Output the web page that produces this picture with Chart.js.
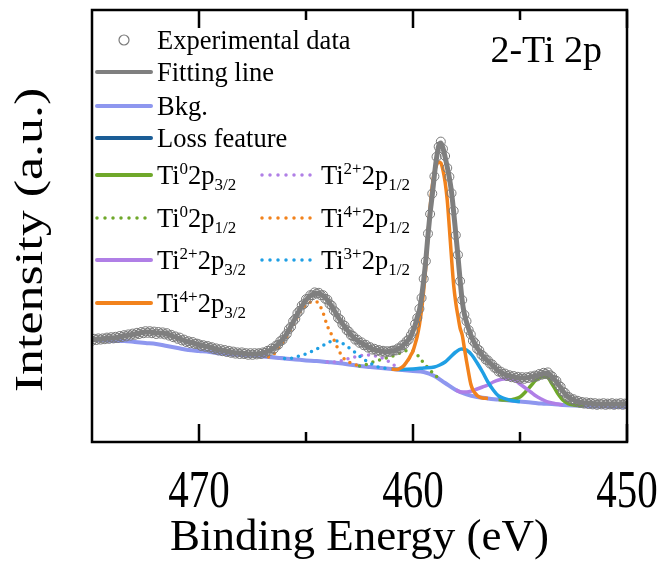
<!DOCTYPE html>
<html>
<head>
<meta charset="utf-8">
<title>2-Ti 2p</title>
<script src="https://cdn.jsdelivr.net/npm/chart.js@4.4.1/dist/chart.umd.min.js"></script>
<style>
  html, body { margin: 0; padding: 0; background: #fff; }
  canvas { display: block; }
</style>
</head>
<body>
<canvas id="chart" width="664" height="570"></canvas>
<script>
"use strict";

// measured spectrum, 0.1 eV steps (binding energy in eV, counts in a.u.)
const expEnergy = [
    475, 474.9, 474.8, 474.7, 474.6, 474.5, 474.4, 474.3, 474.2, 474.1,
    474, 473.9, 473.8, 473.7, 473.6, 473.5, 473.4, 473.3, 473.2, 473.1,
    473, 472.9, 472.8, 472.7, 472.6, 472.5, 472.4, 472.3, 472.2, 472.1,
    472, 471.9, 471.8, 471.7, 471.6, 471.5, 471.4, 471.3, 471.2, 471.1,
    471, 470.9, 470.8, 470.7, 470.6, 470.5, 470.4, 470.3, 470.2, 470.1,
    470, 469.9, 469.8, 469.7, 469.6, 469.5, 469.4, 469.3, 469.2, 469.1,
    469, 468.9, 468.8, 468.7, 468.6, 468.5, 468.4, 468.3, 468.2, 468.1,
    468, 467.9, 467.8, 467.7, 467.6, 467.5, 467.4, 467.3, 467.2, 467.1,
    467, 466.9, 466.8, 466.7, 466.6, 466.5, 466.4, 466.3, 466.2, 466.1,
    466, 465.9, 465.8, 465.7, 465.6, 465.5, 465.4, 465.3, 465.2, 465.1,
    465, 464.9, 464.8, 464.7, 464.6, 464.5, 464.4, 464.3, 464.2, 464.1,
    464, 463.9, 463.8, 463.7, 463.6, 463.5, 463.4, 463.3, 463.2, 463.1,
    463, 462.9, 462.8, 462.7, 462.6, 462.5, 462.4, 462.3, 462.2, 462.1,
    462, 461.9, 461.8, 461.7, 461.6, 461.5, 461.4, 461.3, 461.2, 461.1,
    461, 460.9, 460.8, 460.7, 460.6, 460.5, 460.4, 460.3, 460.2, 460.1,
    460, 459.9, 459.8, 459.7, 459.6, 459.5, 459.4, 459.3, 459.2, 459.1,
    459, 458.9, 458.8, 458.7, 458.6, 458.5, 458.4, 458.3, 458.2, 458.1,
    458, 457.9, 457.8, 457.7, 457.6, 457.5, 457.4, 457.3, 457.2, 457.1,
    457, 456.9, 456.8, 456.7, 456.6, 456.5, 456.4, 456.3, 456.2, 456.1,
    456, 455.9, 455.8, 455.7, 455.6, 455.5, 455.4, 455.3, 455.2, 455.1,
    455, 454.9, 454.8, 454.7, 454.6, 454.5, 454.4, 454.3, 454.2, 454.1,
    454, 453.9, 453.8, 453.7, 453.6, 453.5, 453.4, 453.3, 453.2, 453.1,
    453, 452.9, 452.8, 452.7, 452.6, 452.5, 452.4, 452.3, 452.2, 452.1,
    452, 451.9, 451.8, 451.7, 451.6, 451.5, 451.4, 451.3, 451.2, 451.1,
    451, 450.9, 450.8, 450.7, 450.6, 450.5, 450.4, 450.3, 450.2, 450.1,
    450
];
const experimental = [
    25.3, 25.8, 25.5, 25.9, 25.6, 25.9, 25.7, 26.1, 25.8, 26.2,
    25.9, 26.3, 26.0, 26.5, 26.2, 26.7, 26.4, 26.9, 26.6, 27.1,
    26.8, 27.3, 27.0, 27.5, 27.2, 27.7, 27.3, 27.7, 27.2, 27.6,
    27.0, 27.5, 27.1, 27.4, 26.9, 27.2, 26.6, 26.8, 26.2, 26.4,
    25.8, 26.1, 25.4, 25.6, 25.0, 25.2, 24.7, 25.0, 24.5, 24.6,
    24.4, 24.0, 24.2, 23.8, 24.0, 23.6, 23.7, 23.2, 23.4, 22.9,
    23.2, 22.7, 23.0, 22.5, 22.8, 22.3, 22.6, 22.1, 22.4, 22.0,
    22.4, 22.0, 22.2, 21.8, 22.2, 21.8, 22.2, 21.9, 22.2, 22.0,
    22.4, 22.3, 22.8, 22.8, 23.4, 23.3, 24.1, 24.3, 25.2, 25.5,
    26.4, 27.0, 28.2, 28.8, 30.2, 30.8, 32.2, 32.8, 34.1, 34.5,
    35.7, 35.8, 36.7, 36.7, 37.4, 37.1, 37.3, 36.7, 36.7, 35.8,
    35.6, 34.5, 34.1, 32.9, 32.4, 31.0, 30.6, 29.4, 29.1, 28.0,
    27.6, 26.7, 26.5, 25.6, 25.6, 24.8, 24.9, 24.2, 24.3, 23.6,
    23.7, 23.1, 23.3, 22.8, 23.0, 22.6, 22.8, 22.4, 22.7, 22.5,
    22.8, 22.9, 22.9, 23.4, 23.4, 24.2, 24.4, 25.2, 25.6, 26.7,
    27.6, 29.5, 31.0, 33.3, 36.0, 40.8, 45.2, 52.1, 57.0, 62.1,
    66.4, 71.3, 73.8, 75.1, 73.3, 71.5, 68.5, 66.3, 62.2, 57.8,
    51.7, 46.8, 40.2, 35.5, 31.8, 30.2, 28.0, 26.9, 25.3, 24.7,
    23.3, 22.9, 21.8, 21.4, 20.6, 20.4, 19.6, 19.4, 18.6, 18.4,
    17.6, 17.6, 17.0, 17.1, 16.5, 16.7, 16.2, 16.5, 16.0, 16.3,
    15.8, 16.2, 15.8, 16.2, 16.0, 16.4, 16.2, 16.6, 16.4, 17.0,
    16.8, 17.3, 17.0, 17.4, 16.7, 16.4, 15.5, 15.3, 14.2, 13.8,
    12.6, 12.3, 11.3, 11.2, 10.6, 10.7, 10.1, 10.3, 9.8, 10.0,
    9.6, 9.9, 9.5, 9.8, 9.4, 9.7, 9.3, 9.6, 9.4, 9.7,
    9.3, 9.6, 9.4, 9.7, 9.3, 9.6, 9.4, 9.7, 9.3, 9.6,
    9.5
];

// envelope of the fit
const fitEnergy = [
    475, 474.75, 474.5, 474.25, 474, 473.75, 473.5, 473.25, 473, 472.75, 472.5, 472.25,
    472, 471.75, 471.5, 471.25, 471, 470.75, 470.5, 470.25, 470, 469.75, 469.5, 469.25,
    469, 468.75, 468.5, 468.25, 468, 467.75, 467.5, 467.25, 467, 466.75, 466.5, 466.25,
    466, 465.75, 465.5, 465.25, 465, 464.75, 464.5, 464.25, 464, 463.75, 463.5, 463.25,
    463, 462.75, 462.5, 462.25, 462, 461.75, 461.5, 461.25, 461,
    460.9, 460.8, 460.7, 460.6, 460.5, 460.4, 460.3, 460.2, 460.1, 460,
    459.9, 459.8, 459.7, 459.6, 459.5, 459.4, 459.3, 459.2, 459.1, 459,
    458.9, 458.8, 458.7, 458.6, 458.5, 458.4, 458.3, 458.2, 458.1, 458,
    457.9, 457.8, 457.7, 457.6, 457.5, 457.4, 457.3, 457.2, 457.1, 457,
    456.9, 456.8, 456.7, 456.6, 456.5, 456.4, 456.3, 456.2, 456.1,
    456, 455.75, 455.5, 455.25, 455, 454.75, 454.5, 454.25, 454, 453.75, 453.5, 453.25,
    453, 452.75, 452.5, 452.25, 452, 451.75, 451.5, 451.25, 451, 450.75, 450.5, 450.25, 450
];
const fitting = [
    25.5, 25.75, 25.75, 26, 26, 26.25, 26.5, 26.75, 27, 27.25, 27.5, 27.5,
    27.25, 27.25, 27, 26.5, 26, 25.5, 25, 24.75, 24.25, 24, 23.75, 23.25,
    23, 22.75, 22.5, 22.25, 22.25, 22, 22, 22, 22.25, 22.75, 23.5, 24.75,
    26.25, 28.5, 31, 33.5, 35.5, 36.75, 37.25, 36.75, 35.5, 33.5, 31.25, 29.25,
    27.5, 26, 25, 24.25, 23.5, 23, 22.75, 22.5, 22.75,
    22.75, 23, 23.25, 23.5, 24, 24.5, 25, 25.75, 26.5, 27.75,
    29.25, 31.25, 33, 36.25, 40.5, 45.5, 51.75, 57.25, 61.75, 66.75,
    71, 74, 74.75, 73.5, 71.25, 68.75, 66, 62.5, 57.5, 52,
    46.5, 40.5, 35.25, 32, 30, 28.25, 26.75, 25.5, 24.5, 23.5,
    22.75, 22, 21.25, 20.75, 20.25, 19.75, 19.25, 18.75, 18.25,
    17.75, 17, 16.5, 16.25, 16, 16, 16.25, 16.5, 17, 17.25, 16.25, 14.75,
    12.75, 11.25, 10.5, 10, 9.75, 9.75, 9.5, 9.5, 9.5, 9.5, 9.5, 9.5, 9.5
];

// Shirley-type background, 0.5 eV steps
const bkgEnergy = [
    475, 474.5, 474, 473.5, 473, 472.5, 472, 471.5, 471, 470.5, 470, 469.5, 469,
    468.5, 468, 467.5, 467, 466.5, 466, 465.5, 465, 464.5, 464, 463.5, 463,
    462.5, 462, 461.5, 461, 460.5, 460, 459.5, 459, 458.5, 458, 457.5, 457,
    456.5, 456, 455.5, 455, 454.5, 454, 453.5, 453, 452.5, 452, 451.5, 451, 450.5, 450
];
const bkg = [
    25.5, 25.5, 25.25, 25.25, 25, 24.75, 24.5, 24, 23.5, 23, 22.75, 22.5, 22.1,
    21.9, 21.75, 21.6, 21.4, 21.1, 20.9, 20.6, 20.4, 20.25, 20, 19.75, 19.4,
    19, 18.75, 18.5, 18.25, 18, 17.75, 17.5, 16.5, 14.75, 13, 11.9, 11.25,
    10.9, 10.6, 10.4, 10.1, 9.9, 9.6, 9.5, 9.25, 9.1, 9, 8.9, 8.9, 8.75, 8.75
];

const lossEnergy = [475, 474.5, 474, 473.5, 473, 472.5, 472, 471.5, 471, 470.5,
    470, 469.5, 469, 468.5, 468, 467.5, 467, 466.5, 466];
const loss = [25.5, 25.75, 26, 26.5, 27, 27.5, 27.25, 27, 26, 25,
    24.25, 23.75, 23, 22.5, 22.25, 21.9, 21.6, 21.2, 20.9];

// fitted components (background included)
const ti4p32Energy = [461, 460.75, 460.5, 460.4, 460.3, 460.2, 460.1, 460, 459.9, 459.8,
    459.7, 459.6, 459.5, 459.4, 459.3, 459.2, 459.1, 459, 458.9, 458.8, 458.7, 458.6,
    458.5, 458.4, 458.3, 458.2, 458.1, 458, 457.9, 457.8, 457.7, 457.6, 457.5, 457.4,
    457.3, 457.2, 457.1, 457, 456.75, 456.5];
const ti4p32 = [18.25, 18.1, 18.75, 19.25, 20, 20.75, 21.75, 22.75, 24.5, 26.5,
    29.25, 33, 38, 44, 51.75, 58.5, 64, 67.5, 69.25, 70, 69.75, 68,
    65, 60.5, 53.5, 46, 39.25, 34.75, 31.5, 28.5, 26.75, 23.5, 20.25, 17.25,
    14.5, 13, 12.25, 11.6, 11, 10.9];

const ti3p32Energy = [461, 460.5, 460, 459.5, 459, 458.75, 458.5, 458.25, 458, 457.75,
    457.5, 457.25, 457, 456.75, 456.5, 456.25, 456, 455.75, 455.5, 455.25, 455];
const ti3p32 = [18.25, 18.15, 18.25, 18.5, 18.75, 19.25, 20, 21.25, 22.5, 23.25,
    23, 21.75, 19.75, 17.5, 15, 13, 11.5, 10.9, 10.5, 10.25, 10.1];

const ti2p32Energy = [458, 457.75, 457.5, 457.25, 457, 456.75, 456.5, 456.25, 456, 455.75,
    455.5, 455.25, 455, 454.75, 454.5, 454.25, 454, 453.75, 453.5, 453.25, 453];
const ti2p32 = [13, 12.5, 12.5, 12.75, 13.25, 13.75, 14.25, 15, 15.5, 15.75,
    15.75, 15.5, 14.5, 13.5, 12.5, 11.5, 10.75, 10.1, 9.75, 9.5, 9.25];

const ti0p32Energy = [456, 455.75, 455.5, 455.25, 455, 454.75, 454.5, 454.25, 454,
    453.75, 453.5, 453.25, 453, 452.75, 452.5, 452.25, 452];
const ti0p32 = [10.6, 10.5, 10.5, 10.75, 11.25, 12.5, 14, 15.5, 16.25,
    16.25, 14.5, 12.25, 10.5, 9.6, 9.25, 9.1, 9];

const ti4p12Energy = [466.75, 466.5, 466.25, 466, 465.75, 465.5, 465.25, 465, 464.75,
    464.5, 464.25, 464, 463.75, 463.5, 463.25, 463, 462.75, 462.5];
const ti4p12 = [21.25, 22, 23.75, 25.5, 27.75, 30.25, 32.75, 34.25, 35,
    35, 33, 29, 26.25, 23.25, 21, 20, 19.4, 19];

const ti3p12Energy = [466, 465.75, 465.5, 465.25, 465, 464.75, 464.5, 464.25, 464, 463.75,
    463.5, 463.25, 463, 462.75, 462.5, 462.25, 462, 461.75, 461.5, 461.25];
const ti3p12 = [20.9, 20.9, 21.25, 21.6, 22, 22.6, 23.25, 24, 24.75, 25.25,
    25.25, 24.5, 23.6, 22.6, 21.5, 20.5, 19.75, 19, 18.6, 18.4];

const ti2p12Energy = [464, 463.75, 463.5, 463.25, 463, 462.75, 462.5, 462.25, 462,
    461.75, 461.5, 461.25, 461, 460.75, 460.5];
const ti2p12 = [20, 20, 20.1, 20.5, 20.9, 21.25, 21.5, 21.75, 21.75,
    21.5, 21.1, 20.5, 19.6, 18.75, 18.1];

const ti0p12Energy = [462.5, 462.25, 462, 461.75, 461.5, 461.25, 461, 460.75, 460.5,
    460.25, 460, 459.75, 459.5, 459.25, 459, 458.75];
const ti0p12 = [19, 19.25, 19.75, 20.25, 20.6, 21, 21.4, 21.9, 22.5,
    22.9, 22.75, 21.5, 19.75, 18.25, 16.9, 15.6];

// axis ticks
const xMajorTicks = [470, 460, 450];
const xMinorTicks = [465, 455];

const settings = {
    font: '"Liberation Serif", "Times New Roman", serif',
    gray: "#7f7f7f",
    bkg: "#8e97ef",
    loss: "#1b5d96",
    green: "#6fa82a",
    purple: "#b07fe6",
    orange: "#f2821c",
    cyan: "#1f9fe4",
    dots: [0, 7],
};

function pairs(xs, ys) {
    return xs.map(function (x, i) { return { x: x, y: ys[i] }; });
}

function curve(label, xs, ys, color, width, dotted, order) {
    return {
        label: label,
        data: pairs(xs, ys),
        borderColor: color,
        borderWidth: width,
        borderDash: dotted ? settings.dots : [],
        borderCapStyle: dotted ? "round" : "butt",
        pointRadius: 0,
        cubicInterpolationMode: "monotone",
        fill: false,
        order: order,
    };
}

// legend rows: text pieces are [text, "sup" | "sub" | undefined]
const legendItems = [
    { col: 0, row: 0, marker: "circle", color: "#7a7a7a", text: [["Experimental data"]] },
    { col: 0, row: 1, color: settings.gray, text: [["Fitting line"]] },
    { col: 0, row: 2, color: settings.bkg, text: [["Bkg."]] },
    { col: 0, row: 3, color: settings.loss, text: [["Loss feature"]] },
    { col: 0, row: 4, color: settings.green, text: [["Ti"], ["0", "sup"], ["2p"], ["3/2", "sub"]] },
    { col: 0, row: 5, color: settings.green, dotted: true, text: [["Ti"], ["0", "sup"], ["2p"], ["1/2", "sub"]] },
    { col: 0, row: 6, color: settings.purple, text: [["Ti"], ["2+", "sup"], ["2p"], ["3/2", "sub"]] },
    { col: 0, row: 7, color: settings.orange, text: [["Ti"], ["4+", "sup"], ["2p"], ["3/2", "sub"]] },
    { col: 1, row: 4, color: settings.purple, dotted: true, text: [["Ti"], ["2+", "sup"], ["2p"], ["1/2", "sub"]] },
    { col: 1, row: 5, color: settings.orange, dotted: true, text: [["Ti"], ["4+", "sup"], ["2p"], ["1/2", "sub"]] },
    { col: 1, row: 6, color: settings.cyan, dotted: true, text: [["Ti"], ["3+", "sup"], ["2p"], ["1/2", "sub"]] },
];
const legendRowY = [40, 72, 106, 138, 175, 218, 260, 303];
const legendCols = [
    { x0: 97, x1: 151, text: 157 },
    { x0: 262, x1: 318, text: 321 },
];

function drawPieces(ctx, pieces, x, y) {
    pieces.forEach(function (p) {
        var size = p[1] ? 17 : 26.5,
            dy = p[1] === "sup" ? -10 : (p[1] === "sub" ? 6 : 0);
        ctx.font = size + "px " + settings.font;
        ctx.fillText(p[0], x, y + dy);
        x += ctx.measureText(p[0]).width;
    });
}

function drawLegend(ctx) {
    ctx.save();
    ctx.textAlign = "left";
    ctx.textBaseline = "alphabetic";
    ctx.fillStyle = "#000";
    legendItems.forEach(function (item) {
        var col = legendCols[item.col],
            y = legendRowY[item.row];
        if (item.marker === "circle") {
            ctx.beginPath();
            ctx.arc((col.x0 + col.x1) / 2, y, 5, 0, Math.PI * 2);
            ctx.strokeStyle = item.color;
            ctx.lineWidth = 1.2;
            ctx.stroke();
        } else {
            ctx.beginPath();
            ctx.moveTo(col.x0, y);
            ctx.lineTo(col.x1, y);
            ctx.strokeStyle = item.color;
            ctx.lineWidth = item.dotted ? 3.5 : 4;
            ctx.lineCap = "round";
            ctx.setLineDash(item.dotted ? [0, 8] : []);
            ctx.stroke();
            ctx.setLineDash([]);
        }
        drawPieces(ctx, item.text, col.text, y + 9);
    });
    ctx.restore();
}

// frame, inward ticks, stretched tick labels, y title, panel tag and legend
const decorPlugin = {
    id: "decor",
    afterDatasetsDraw: function (chart) {
        var ctx = chart.ctx,
            area = chart.chartArea,
            xs = chart.scales.x;
        ctx.save();
        ctx.strokeStyle = "#000";
        ctx.lineWidth = 2.5;
        ctx.strokeRect(area.left, area.top, area.right - area.left, area.bottom - area.top);

        function tick(v, len) {
            var px = xs.getPixelForValue(v);
            ctx.beginPath();
            ctx.moveTo(px, area.bottom);
            ctx.lineTo(px, area.bottom - len);
            ctx.moveTo(px, area.top);
            ctx.lineTo(px, area.top + len);
            ctx.stroke();
        }
        xMajorTicks.forEach(function (v) { tick(v, 18); });
        xMinorTicks.forEach(function (v) { tick(v, 10); });

        ctx.fillStyle = "#000";
        ctx.textAlign = "center";
        ctx.textBaseline = "alphabetic";
        ctx.font = "41px " + settings.font;
        xMajorTicks.forEach(function (v) {
            ctx.save();
            ctx.translate(xs.getPixelForValue(v), 507);
            ctx.scale(1, 1.27);
            ctx.fillText(String(v), 0, 0);
            ctx.restore();
        });

        ctx.save();
        ctx.translate(42, 240);
        ctx.rotate(-Math.PI / 2);
        ctx.scale(1.3, 1);
        ctx.font = "40px " + settings.font;
        ctx.fillText("Intensity (a.u.)", 0, 0);
        ctx.restore();

        ctx.textAlign = "right";
        ctx.font = "38px " + settings.font;
        ctx.fillText("2-Ti 2p", 602, 62);
        ctx.restore();

        drawLegend(ctx);
    },
};

const datasets = [
    curve("Fitting line", fitEnergy, fitting, settings.gray, 5, false, 0),
    {
        label: "Experimental data",
        data: pairs(expEnergy, experimental),
        showLine: false,
        pointRadius: 4.5,
        pointBorderWidth: 1,
        pointBorderColor: "#7a7a7a",
        pointBackgroundColor: "rgba(255,255,255,0)",
        order: 1,
    },
    curve("Ti4+ 2p3/2", ti4p32Energy, ti4p32, settings.orange, 3.5, false, 2),
    curve("Ti3+ 2p3/2", ti3p32Energy, ti3p32, settings.cyan, 3.5, false, 3),
    curve("Ti2+ 2p3/2", ti2p32Energy, ti2p32, settings.purple, 3.5, false, 4),
    curve("Ti0 2p3/2", ti0p32Energy, ti0p32, settings.green, 3.5, false, 5),
    curve("Ti4+ 2p1/2", ti4p12Energy, ti4p12, settings.orange, 3.5, true, 6),
    curve("Ti3+ 2p1/2", ti3p12Energy, ti3p12, settings.cyan, 3.5, true, 7),
    curve("Ti2+ 2p1/2", ti2p12Energy, ti2p12, settings.purple, 3.5, true, 8),
    curve("Ti0 2p1/2", ti0p12Energy, ti0p12, settings.green, 3.5, true, 9),
    curve("Bkg.", bkgEnergy, bkg, settings.bkg, 4, false, 10),
    curve("Loss feature", lossEnergy, loss, settings.loss, 3, false, 11),
];

window.chart = new Chart(document.getElementById("chart").getContext("2d"), {
    type: "line",
    data: { datasets: datasets },
    options: {
        responsive: false,
        animation: false,
        layout: { padding: { top: 10, right: 37, left: 0, bottom: 0 } },
        plugins: {
            legend: { display: false },
            tooltip: { enabled: false },
        },
        scales: {
            x: {
                type: "linear",
                reverse: true,
                min: 450,
                max: 475,
                ticks: { display: false, stepSize: 5 },
                grid: { display: false },
                border: { display: false },
                title: {
                    display: true,
                    text: "Binding Energy (eV)",
                    color: "#000",
                    font: { family: settings.font, size: 45 },
                    padding: { top: 0, bottom: 5 },
                },
                afterFit: function (scale) { scale.height = 128; },
            },
            y: {
                min: 0,
                max: 108,
                ticks: { display: false },
                grid: { display: false },
                border: { display: false },
                afterFit: function (scale) { scale.width = 92; },
            },
        },
    },
    plugins: [decorPlugin],
});
</script>
</body>
</html>
